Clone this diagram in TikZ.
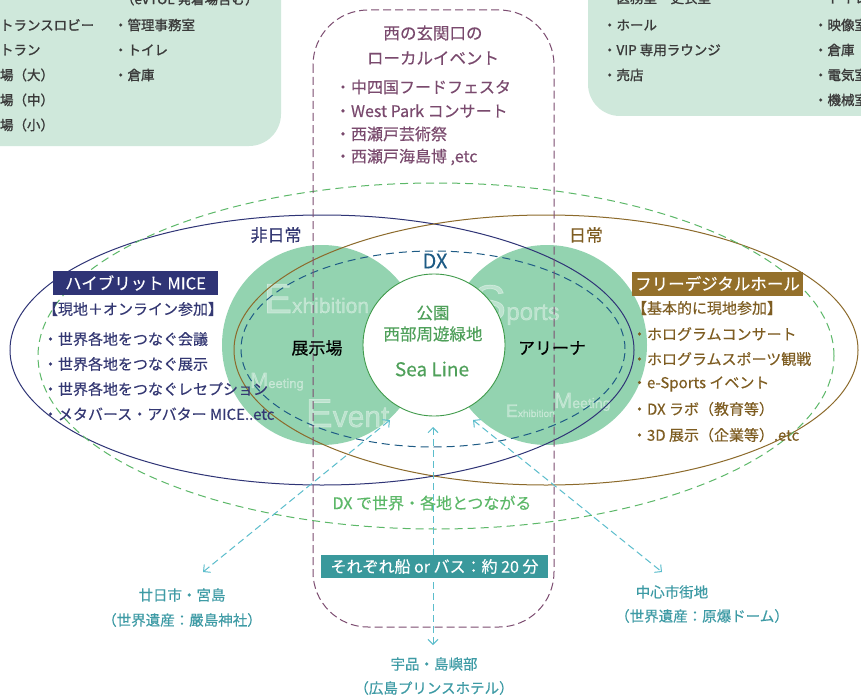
\documentclass[tikz,border=0pt]{standalone}
\usepackage{fontspec}
\setmainfont{Noto Sans CJK JP}[FakeBold=0.3, BoldFont={Noto Sans CJK JP}, BoldFeatures={FakeBold=1.3}]
\newfontfamily\wmfont{Liberation Sans}[AutoFakeBold=1.5]
\usetikzlibrary{arrows.meta}
\definecolor{mint}{HTML}{CFE8DB}
\definecolor{boxtext}{HTML}{3A3A3A}
\definecolor{navyc}{HTML}{2F3476}
\definecolor{navyt}{HTML}{343873}
\definecolor{brownc}{HTML}{8C6A2B}
\definecolor{brownt}{HTML}{7E5D22}
\definecolor{brownbox}{HTML}{94702B}
\definecolor{purpc}{HTML}{7C4C70}
\definecolor{purpt}{HTML}{7A4A6E}
\definecolor{blobc}{HTML}{93D3B0}
\definecolor{seac}{HTML}{3F9A4A}
\definecolor{seat}{HTML}{4FA05A}
\definecolor{dxblue}{HTML}{1E5B85}
\definecolor{gdash}{HTML}{5CB868}
\definecolor{tealarr}{HTML}{5BBDCC}
\definecolor{tealt}{HTML}{3E9BA5}
\definecolor{tealbox}{HTML}{3A999C}
\pgfdeclareradialshading{blob}{\pgfpoint{0bp}{0bp}}{color(0bp)=(blobc); color(39bp)=(blobc); color(50bp)=(white); color(72bp)=(white)}
\newcommand\fsz[1]{\fontsize{#1}{#1}\selectfont}
\tikzset{
  txt/.style={inner sep=0pt, outer sep=0pt},
  lw/.style={txt, anchor=west},
  boxt/.style={lw, text=boxtext, font={\fsz{13.5}\bfseries}},
  evt/.style={lw, text=purpt, font={\fsz{16}}},
  hib/.style={lw, text=navyt, font={\fsz{15}}},
  nib/.style={lw, text=brownt, font={\fsz{15}}},
  wm/.style={txt, anchor=base west, text=white, opacity=0.38, font={\wmfont\bfseries}},
  bot/.style={txt, text=tealt, font={\fsz{14.5}}},
  arr/.style={draw=tealarr, line width=1pt, dash pattern=on 7pt off 4pt,
    {Straight Barb[length=5pt,width=10pt]}-{Straight Barb[length=5pt,width=10pt]}},
}
\begin{document}
\begin{tikzpicture}[x=1pt,y=-1pt]
\useasboundingbox (0,0) rectangle (861,698);
\clip (0,0) rectangle (861,698);
\fill[white] (0,0) rectangle (861,698);

% top boxes
\fill[mint, rounded corners=32pt] (-40,-40) rectangle (281,146);
\fill[mint, rounded corners=32pt] (588,-40) rectangle (920,116);
\node[boxt] (tl0) at (121,-1) {（eVTOL 発着場含む）};
\node[boxt] (tl1) at (0,25) {トランスロビー};
\node[boxt] (tl2) at (0,50) {トラン};
\node[boxt] (tl3) at (0,75) {場（大）};
\node[boxt] (tl4) at (0,100) {場（中）};
\node[boxt] (tl5) at (0,125) {場（小）};
\node[boxt] (tm1) at (114,25) {・管理事務室};
\node[boxt] (tm2) at (114,50) {・トイレ};
\node[boxt] (tm3) at (114,75) {・倉庫};
\node[boxt] (tr0) at (603,-2) {・医務室・更衣室};
\node[boxt] (tr1) at (603,25) {・ホール};
\node[boxt] (tr2) at (603,50) {・VIP 専用ラウンジ};
\node[boxt] (tr3) at (603,75) {・売店};
\node[boxt] (ts0) at (814,-2) {・トイレ};
\node[boxt] (ts1) at (814,25) {・映像室};
\node[boxt] (ts2) at (814,50) {・倉庫};
\node[boxt] (ts3) at (814,75) {・電気室};
\node[boxt] (ts4) at (814,100) {・機械室};

% green blobs
\shade[shading=blob] (322,345) circle [radius=100pt];
\shade[shading=blob] (547,345) circle [radius=100pt];

% watermarks
\node[wm] (w1) at (264,313) {{\fsz{42}E}{\fsz{21}xhibition}};
\node[wm] (w2) at (250,388) {{\fsz{22}M}{\fsz{13}eeting}};
\node[wm] (w3) at (306,427) {{\fsz{40}E}{\fsz{30}vent}};
\node[wm] (w4) at (473,320) {{\fsz{50}S}{\fsz{24}ports}};
\node[wm] (w5) at (506,417) {{\fsz{18}E}{\fsz{10}xhibition}};
\node[wm] (w6) at (554,408) {{\fsz{22}M}{\fsz{14}eeting}};

% Sea Line circle
\draw[seac, fill=white, line width=0.9pt] (434,345) circle [radius=71pt];

% ellipses
\draw[navyc, line width=1pt] (322,350) ellipse [x radius=312pt, y radius=135pt];
\draw[brownc, line width=1pt] (546,350) ellipse [x radius=312pt, y radius=135pt];
\draw[gdash, line width=1pt, dash pattern=on 8pt off 5pt] (436,356) ellipse [x radius=398pt, y radius=173pt];
\draw[dxblue, line width=1pt, dash pattern=on 8pt off 5pt] (433,349) ellipse [x radius=192pt, y radius=98pt];

% purple dashed frame
\draw[purpc, line width=1pt, dash pattern=on 8pt off 4pt, rounded corners=55pt] (313,10) rectangle (554,627);

% event texts
\node[txt, text=purpt, font={\fsz{16.5}}] (ev1) at (433,33) {西の玄関口の};
\node[txt, text=purpt, font={\fsz{16.5}}] (ev2) at (433,58) {ローカルイベント};
\node[evt] (e1) at (335,87) {・中四国フードフェスタ};
\node[evt] (e2) at (335,111) {・West Park コンサート};
\node[evt] (e3) at (335,134) {・西瀬戸芸術祭};
\node[evt] (e4) at (335,157) {・西瀬戸海島博 ,etc};

% center labels
\node[txt, text=navyt, font={\fsz{17}}] (hnc) at (276,235) {非日常};
\node[txt, text=brownt, font={\fsz{17}}] (nc) at (586,235) {日常};
\node[txt, text=dxblue, font={\fsz{20}}] (dx) at (435,261) {DX};
\node[txt, font={\fsz{17}}] (ten) at (317,348) {展示場};
\node[txt, font={\fsz{17}}] (are) at (552,348) {アリーナ};
\node[txt, text=seat, font={\fsz{16.5}}] (koen) at (433,313) {公園};
\node[txt, text=seat, font={\fsz{16.5}}] (seib) at (433,334) {西部周遊緑地};
\node[txt, text=seat, font={\fsz{19}}] (sea) at (432,369) {Sea Line};

% left: hybrid MICE
\node[txt, fill=navyc, text=white, font={\fsz{16.5}}, minimum width=165pt, minimum height=24pt] (hm) at (135.5,283) {ハイブリット MICE};
\node[hib] (h0) at (43,309) {【現地＋オンライン参加】};
\node[hib] (h1) at (43,339) {・世界各地をつなぐ会議};
\node[hib] (h2) at (43,364) {・世界各地をつなぐ展示};
\node[hib] (h3) at (43,389) {・世界各地をつなぐレセプション};
\node[hib] (h4) at (43,414) {・メタバース・アバター MICE..etc};

% right: free digital hall
\node[txt, fill=brownbox, text=white, font={\fsz{16.5}}, minimum width=171pt, minimum height=24pt] (fd) at (717.5,283.5) {フリーデジタルホール};
\node[nib] (n0) at (632,308) {【基本的に現地参加】};
\node[nib] (n1) at (632,334) {・ホログラムコンサート};
\node[nib] (n2) at (632,359) {・ホログラムスポーツ観戦};
\node[nib] (n3) at (632,384) {・e-Sports イベント};
\node[nib] (n4) at (632,409) {・DX ラボ（教育等）};
\node[nib] (n5) at (632,435) {・3D 展示（企業等）.etc};

% DX connect text
\node[txt, text=gdash, font={\fsz{16}}] (dxc) at (432,503) {DX で世界・各地とつながる};

% arrows
\coordinate (la) at (203,572);
\coordinate (lb) at (390,420);
\coordinate (ma) at (433,427);
\coordinate (mb) at (433,645);
\coordinate (ra) at (473,420);
\coordinate (rb) at (662,572);
\draw[arr] (la) -- (lb);
\draw[arr] (ma) -- (mb);
\draw[arr] (ra) -- (rb);

% teal box
\node[txt, fill=tealbox, text=white, font={\fsz{16}}, minimum width=227pt, minimum height=23pt] (ship) at (434.5,566.5) {それぞれ船 or バス：約 20 分};

% bottom labels
\node[bot] (b1) at (182,595) {廿日市・宮島};
\node[bot] (b2) at (182,620) {（世界遺産：嚴島神社）};
\node[bot] (b3) at (434,664) {宇品・島嶼部};
\node[bot] (b4) at (434,688) {（広島プリンスホテル）};
\node[bot] (b5) at (672,592) {中心市街地};
\node[bot] (b6) at (702,616) {（世界遺産：原爆ドーム）};
\end{tikzpicture}
\end{document}
